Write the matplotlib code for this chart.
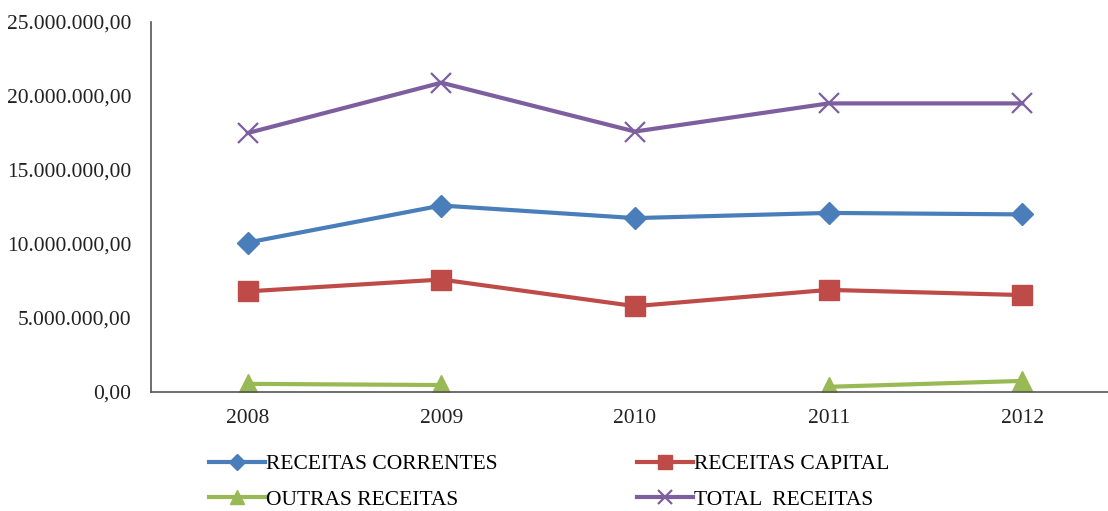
import matplotlib.pyplot as plt
import numpy as np

plt.rcParams['font.family'] = ['Liberation Serif', 'DejaVu Serif']

# Data
years = ["2008", "2009", "2010", "2011", "2012"]
correntes = [10.1e6, 12.6e6, 11.75e6, 12.1e6, 12.0e6]
capital = [6.8e6, 7.6e6, 5.8e6, 6.9e6, 6.55e6]
outras = [0.55e6, 0.47e6, np.nan, 0.35e6, 0.75e6]
total = [17.5e6, 20.9e6, 17.6e6, 19.5e6, 19.5e6]

yticks = [0, 5e6, 10e6, 15e6, 20e6, 25e6]
ytick_labels = ["0,00", "5.000.000,00", "10.000.000,00", "15.000.000,00",
                "20.000.000,00", "25.000.000,00"]

fig = plt.figure(figsize=(11.08, 5.11), dpi=100)
ax = fig.add_axes([151 / 1108, 1 - 392 / 511, (1119 - 151) / 1108, 370 / 511])

x = np.arange(len(years))
l1, = ax.plot(x, correntes, color="#4A7EBB", lw=3, marker="D", ms=11, label="RECEITAS CORRENTES")
l2, = ax.plot(x, capital, color="#BE4B48", lw=3, marker="s", ms=14, label="RECEITAS CAPITAL")
l3, = ax.plot(x, outras, color="#98B954", lw=3, marker="^", ms=15, label="OUTRAS RECEITAS")
l4, = ax.plot(x, total, color="#7D5FA0", lw=3, marker="x", ms=14, mew=1.6, label="TOTAL  RECEITAS")

ax.set_xlim(-0.5, 4.5)
ax.set_ylim(0, 25e6)
ax.set_xticks(x)
ax.set_xticklabels(years)
ax.set_yticks(yticks)
ax.set_yticklabels(ytick_labels)
ax.tick_params(length=0, labelsize=15.5, colors="#222222")
ax.tick_params(axis="x", pad=12)
ax.tick_params(axis="y", pad=14)

for side in ["top", "right"]:
    ax.spines[side].set_visible(False)
for side in ["left", "bottom"]:
    ax.spines[side].set_color("#555555")
    ax.spines[side].set_linewidth(1.2)

# legend reads row-wise: correntes, capital / outras, total
ax.legend([l1, l3, l2, l4], [l.get_label() for l in [l1, l3, l2, l4]],
          loc="upper left", bbox_to_anchor=(0.044, -0.128), ncol=2, frameon=False,
          fontsize=15.5, handlelength=2.6, handletextpad=0.05, columnspacing=6.5,
          labelspacing=0.7, markerscale=0.7, borderaxespad=0.3)

fig.savefig("out.png", dpi=100)
